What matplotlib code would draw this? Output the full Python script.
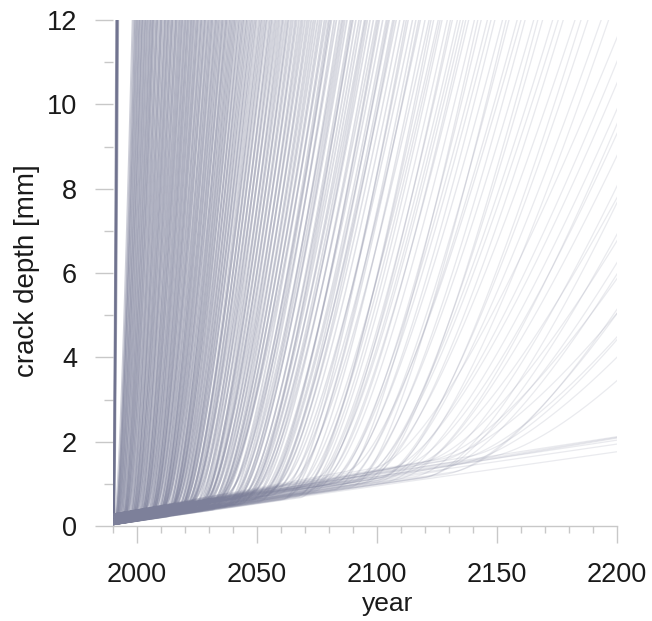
import numpy as np
import matplotlib
matplotlib.use("Agg")
import matplotlib.pyplot as plt

# ---------------- data ----------------
# year at which each simulated crack reaches 12 mm (values > 2200 leave through the right edge)
reach_year = [
    1991.4, 1991.6, 1991.7, 1991.8, 1992.1,
    1998.2, 1998.9, 1999.3, 1999.8, 2000.1, 2000.6, 2001.0, 2001.3, 2001.9, 2002.2,
    2002.5, 2003.1, 2003.4, 2003.8, 2004.3, 2004.6, 2005.2, 2005.5, 2005.9, 2006.4,
    2006.7, 2007.0, 2007.6, 2008.1, 2008.4, 2008.8, 2009.5, 2009.9, 2010.2, 2010.6,
    2011.3, 2011.7, 2012.0, 2012.6, 2013.0, 2013.3, 2013.9, 2014.4, 2014.7, 2015.1,
    2015.8, 2016.2, 2016.5, 2017.0, 2017.6, 2017.9, 2018.5, 2018.8, 2019.3, 2019.9,
    2020.2, 2020.7, 2021.2, 2021.5, 2022.1, 2022.6, 2022.9, 2023.5, 2023.8, 2024.4,
    2024.9, 2025.3, 2025.7, 2026.4, 2026.8, 2027.2, 2027.9, 2028.3, 2028.7, 2029.4,
    2029.8, 2030.3, 2030.9, 2031.3, 2031.8, 2032.5, 2032.9, 2033.4, 2034.0, 2034.4,
    2035.1, 2035.6, 2036.0, 2036.7, 2037.2, 2037.6, 2038.3, 2038.8, 2039.4, 2039.9,
    2040.5, 2041.0, 2041.6, 2042.3, 2042.8, 2043.5, 2044.1, 2044.6, 2045.4, 2045.9,
    2046.6, 2047.3, 2047.9, 2048.6, 2049.3, 2049.9,
    2050.8, 2051.5, 2052.1, 2052.9, 2053.6, 2054.2, 2055.1, 2055.8, 2056.4, 2057.3,
    2058.0, 2058.8, 2059.5, 2060.4, 2061.0, 2061.9, 2062.7, 2063.3, 2064.2, 2065.0,
    2065.9, 2066.6, 2067.5, 2068.4, 2069.1, 2070.0, 2070.9, 2071.7, 2072.6, 2073.5,
    2074.3, 2075.3, 2076.2, 2077.0, 2078.1, 2078.9, 2079.8,
    2081.0, 2082.2, 2083.1, 2084.4, 2085.3, 2086.6, 2087.5, 2088.9, 2090.0, 2091.2,
    2092.5, 2093.4, 2094.8, 2096.0, 2097.1, 2098.5, 2099.8, 2101.0, 2102.4, 2103.9,
    2105.1, 2106.6, 2108.0, 2109.5,
    2111.3, 2113.0, 2114.8, 2116.2, 2118.1, 2120.0, 2121.7, 2123.6, 2125.5, 2127.1,
    2129.3, 2131.4, 2133.5, 2135.9, 2138.2,
    2140.6, 2143.4, 2146.0, 2149.1, 2152.3, 2155.0, 2158.4, 2161.7, 2165.3, 2169.0,
    2173.2, 2177.6, 2182.5, 2187.9, 2193.4,
    2203, 2207, 2211, 2216, 2221, 2226, 2232, 2238, 2245, 2252, 2260, 2268, 2277,
    2288, 2300, 2315,
    2400, 2400, 2400, 2400, 2400, 2400,
    2080.4, 2085.9, 2089.5, 2095.3, 2100.4, 2104.5, 2107.2,
    2112.2, 2117.4, 2122.5, 2126.3, 2130.6, 2134.7, 2137.0,
    2142.0, 2147.5, 2153.8, 2160.0, 2167.0, 2175.5, 2185.0, 2196.5,
    2218, 2235, 2256, 2272, 2295, 2330,
]

# year at which each crack leaves the slow initial growth line
takeoff_year = [
    1990.1, 1990.1, 1990.2, 1990.2, 1990.3,
    1990.6, 1991.2, 1990.9, 1991.5, 1991.0, 1992.1, 1991.4, 1992.6, 1991.8, 1993.0,
    1992.2, 1993.5, 1992.7, 1994.1, 1993.0, 1994.6, 1993.6, 1995.0, 1994.2, 1995.6,
    1994.5, 1996.2, 1995.1, 1996.8, 1995.5, 1997.3, 1996.0, 1997.9, 1996.6, 1998.4,
    1997.0, 1999.0, 1997.6, 1999.5, 1998.1, 2000.1, 1998.7, 2000.6, 1999.2, 2001.0,
    1999.8, 2001.7, 2000.3, 2002.2, 2000.9, 2002.8, 2001.5, 2003.3, 2002.0, 2003.9,
    2002.6, 2004.4, 2003.1, 2004.9, 2003.7, 2005.5, 2004.2, 2006.0, 2004.8, 2006.6,
    2005.3, 2007.1, 2005.9, 2007.7, 2006.4, 2008.2, 2007.0, 2008.8, 2007.5, 2009.3,
    2008.1, 2009.9, 2008.7, 2010.4, 2009.2, 2011.0, 2009.8, 2011.5, 2010.4, 2012.1,
    2011.0, 2012.7, 2011.5, 2013.3, 2012.1, 2013.9, 2012.7, 2014.5, 2013.3, 2015.1,
    2013.9, 2015.7, 2014.5, 2016.3, 2015.1, 2016.9, 2015.7, 2017.5, 2016.3, 2018.1,
    2016.9, 2018.7, 2017.5, 2019.3, 2018.1, 2019.9,
    2020.5, 2018.9, 2021.6, 2019.8, 2022.4, 2020.7, 2023.3, 2021.5, 2024.1, 2022.4,
    2025.0, 2023.2, 2025.9, 2024.1, 2026.7, 2025.0, 2027.6, 2025.8, 2028.5, 2026.7,
    2029.4, 2027.6, 2030.3, 2028.5, 2031.1, 2029.4, 2032.0, 2030.2, 2032.9, 2031.1,
    2033.8, 2032.0, 2034.7, 2032.9, 2035.6, 2033.8, 2036.4,
    2036.0, 2038.3, 2037.2, 2039.8, 2038.6, 2041.3, 2040.0, 2042.9, 2041.5, 2044.4,
    2043.0, 2045.9, 2044.6, 2047.5, 2046.1, 2049.0, 2047.7, 2050.6, 2049.2, 2052.1,
    2050.8, 2053.7, 2052.3, 2055.2,
    2056.0, 2059.2, 2057.8, 2061.6, 2060.3, 2064.1, 2062.7, 2066.6, 2065.2, 2069.0,
    2067.8, 2071.6, 2070.3, 2074.2, 2073.0,
    2076.5, 2079.8, 2078.4, 2083.0, 2081.7, 2086.4, 2085.0, 2089.8, 2088.4, 2093.2,
    2092.0, 2096.8, 2095.5, 2100.4, 2099.2,
    2098, 2100, 2104, 2103, 2110, 2108, 2115, 2112, 2120, 2118, 2124, 2122, 2128,
    2126, 2130, 2134,
    2260, 2270, 2280, 2290, 2300, 2310,
    2038.0, 2040.2, 2045.0, 2046.9, 2051.8, 2054.0, 2056.5,
    2060.5, 2063.0, 2068.2, 2067.0, 2072.8, 2072.0, 2076.9,
    2082.1, 2080.0, 2089.0, 2086.8, 2095.1, 2093.4, 2102.0, 2104.5,
    2112, 2119, 2126, 2131, 2138, 2145,
]

# spread of the slow initial growth (mm/year) and of the depth at 1990 (mm)
baseline_rates = [0.0081, 0.0093, 0.0086, 0.0101, 0.0089, 0.0097, 0.0084,
                  0.0105, 0.0091, 0.0099, 0.0083, 0.0095, 0.0088]
start_depths = [0.04, 0.20, 0.09, 0.27, 0.06, 0.15, 0.23]

x_major = [2000, 2050, 2100, 2150, 2200]
y_major = [0, 2, 4, 6, 8, 10, 12]

# ---------------- figure ----------------
W, H = 652, 621
fig = plt.figure(figsize=(W / 100, H / 100), dpi=100)
ax = fig.add_axes([113 / W, 95 / H, 504 / W, 506 / H])
ax.set_xlim(1990, 2200)
ax.set_ylim(0, 12)

bend = 0.3
u = np.linspace(0, 1, 150)
# line weight fades smoothly from the crowded early cracks to the sparse late ones
fade_years = [1995, 2040, 2080, 2130, 2200]
fade_alpha = [0.38, 0.37, 0.30, 0.20, 0.16]
fade_width = [1.45, 1.45, 1.3, 1.0, 0.9]
for i, (T, ti) in enumerate(zip(reach_year, takeoff_year)):
    k = baseline_rates[i % len(baseline_rates)]
    a0 = start_depths[i % len(start_depths)]
    base = lambda t: a0 + k * (t - 1990)
    tc = ti + bend * (T - ti)
    xb = (1 - u) ** 2 * ti + 2 * u * (1 - u) * tc + u ** 2 * T
    yb = (1 - u) ** 2 * base(ti) + 2 * u * (1 - u) * base(tc) + u ** 2 * 12
    x = np.concatenate([[1990], xb])
    y = np.concatenate([[a0], yb])
    if T < 1993:
        ax.plot(x, y, color="#6c6f8c", lw=1.6, alpha=0.55, solid_capstyle="butt")
    else:
        a = float(np.interp(T, fade_years, fade_alpha))
        w = float(np.interp(T, fade_years, fade_width))
        ax.plot(x, y, color="#7d809a", lw=w, alpha=a)

for s in ["top", "right", "left"]:
    ax.spines[s].set_visible(False)
ax.spines["bottom"].set_color("#c8c8c8")
ax.spines["bottom"].set_linewidth(1.0)

ax.set_xticks(x_major)
ax.set_xticks(np.arange(1990, 2201, 10), minor=True)
ax.set_yticks(y_major)
ax.set_yticks([1, 3, 5, 7, 9, 11], minor=True)

font = "Liberation Sans"
ax.tick_params(axis="x", which="major", length=12, width=1, color="#c8c8c8",
               pad=14, labelsize=19.5, labelcolor="#1a1a1a")
ax.tick_params(axis="x", which="minor", length=5, width=1, color="#c8c8c8")
ax.tick_params(axis="y", which="major", length=13, width=1, color="#c8c8c8",
               pad=13, labelsize=19.5, labelcolor="#1a1a1a")
ax.tick_params(axis="y", which="minor", length=6.5, width=1, color="#c8c8c8")
for lab in ax.get_xticklabels() + ax.get_yticklabels():
    lab.set_fontfamily(font)

fig.text(388 / W, 1 - 611 / H, "year", ha="center", va="baseline",
         fontsize=19, family=font, color="#1a1a1a")
fig.text(27 / W, 1 - 271 / H, "crack depth [mm]", ha="center", va="center",
         rotation=90, fontsize=20, family=font, color="#1a1a1a")

fig.savefig("out.png", dpi=100)
